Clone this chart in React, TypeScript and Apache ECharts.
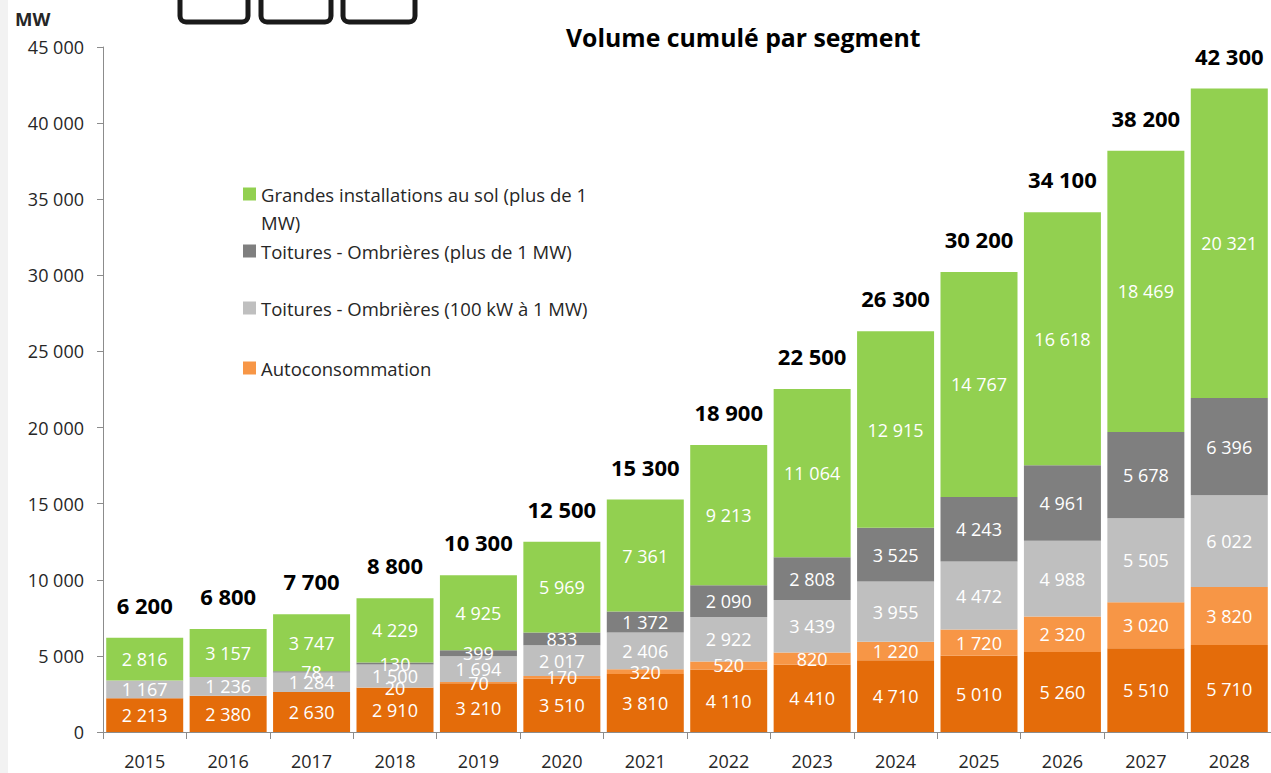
import React, { useEffect, useRef } from "react";
import * as echarts from "echarts";

const years = ["2015", "2016", "2017", "2018", "2019", "2020", "2021", "2022", "2023", "2024", "2025", "2026", "2027", "2028"];
const petites = [2213, 2380, 2630, 2910, 3210, 3510, 3810, 4110, 4410, 4710, 5010, 5260, 5510, 5710];
const autoconso = [0, 0, 0, 20, 70, 170, 320, 520, 820, 1220, 1720, 2320, 3020, 3820];
const toituresMoyennes = [1167, 1236, 1284, 1500, 1694, 2017, 2406, 2922, 3439, 3955, 4472, 4988, 5505, 6022];
const toituresGrandes = [0, 0, 78, 130, 399, 833, 1372, 2090, 2808, 3525, 4243, 4961, 5678, 6396];
const sol = [2816, 3157, 3747, 4229, 4925, 5969, 7361, 9213, 11064, 12915, 14767, 16618, 18469, 20321];
const totals = [6200, 6800, 7700, 8800, 10300, 12500, 15300, 18900, 22500, 26300, 30200, 34100, 38200, 42300];

const NAME_SOL = "Grandes installations au sol (plus de 1 MW)";
const NAME_TG = "Toitures - Ombrières (plus de 1 MW)";
const NAME_TM = "Toitures - Ombrières (100 kW à 1 MW)";
const NAME_AUTO = "Autoconsommation";
const NAME_PETITES = "Petites installations";

const FONT = "'Open Sans', Lato, sans-serif";

const fmt = (v: number) => String(v).replace(/\B(?=(\d{3})+(?!\d))/g, " ");

export default function App() {
  const ref = useRef<HTMLDivElement>(null);
  useEffect(() => {
    if (!ref.current) return;
    const chart = echarts.init(ref.current, undefined, { renderer: "svg" });
    const segLabel = {
      show: true,
      position: "inside" as const,
      color: "#ffffff",
      fontFamily: FONT,
      fontSize: 18,
      formatter: (p: any) => (p.value ? fmt(p.value) : ""),
    };
    const mk = (name: string, data: number[], color: string) => ({
      name,
      type: "bar",
      stack: "total",
      data,
      barWidth: 77,
      itemStyle: { color },
      label: segLabel,
    });
    const legendBase = {
      orient: "vertical",
      left: 243,
      padding: 0,
      itemWidth: 13,
      itemHeight: 13,
      icon: "rect",
      selectedMode: false,
      textStyle: { fontFamily: FONT, fontSize: 18.5, color: "#262626", lineHeight: 28 },
    };
    chart.setOption({
      animation: false,
      backgroundColor: "#ffffff",
      title: {
        text: "Volume cumulé par segment",
        left: 561,
        top: 19,
        textStyle: { fontFamily: FONT, fontSize: 24.8, fontWeight: "bold", color: "#000000" },
      },
      legend: [
        {
          ...legendBase,
          top: 152,
          data: [NAME_SOL],
          formatter: () => "\nGrandes installations au sol (plus de 1\nMW)",
        },
        { ...legendBase, top: 237, data: [NAME_TG] },
        { ...legendBase, top: 294, data: [NAME_TM] },
        { ...legendBase, top: 354, data: [NAME_AUTO] },
      ],
      grid: { left: 103, right: -5, top: 47, bottom: 41, containLabel: false },
      xAxis: {
        type: "category",
        data: years,
        axisLine: { lineStyle: { color: "#8c8c8c", width: 1 } },
        axisTick: { show: true, length: 7, lineStyle: { color: "#8c8c8c" } },
        axisLabel: { margin: 20, fontFamily: FONT, fontSize: 18, color: "#262626" },
      },
      yAxis: {
        type: "value",
        min: 0,
        max: 45000,
        interval: 5000,
        splitLine: { show: false },
        axisLine: { show: true, lineStyle: { color: "#8c8c8c", width: 1 } },
        axisTick: { show: true, length: 6, lineStyle: { color: "#8c8c8c" } },
        axisLabel: { margin: 19, fontFamily: FONT, fontSize: 18, color: "#262626", formatter: (v: number) => fmt(v) },
      },
      graphic: [
        { type: "rect", left: 0, top: 0, shape: { x: 0, y: 0, width: 8, height: 773 }, style: { fill: "#f2f2f2" }, z: 100 },
        { type: "text", left: 15, top: 9, style: { text: "MW", fontFamily: FONT, fontSize: 18.5, fontWeight: "bold", fill: "#262626" } },
        { type: "rect", shape: { x: 180, y: -40, width: 68, height: 62, r: 6 }, style: { fill: "none", stroke: "#1a1a1a", lineWidth: 5 } },
        { type: "rect", shape: { x: 261, y: -40, width: 70, height: 62, r: 6 }, style: { fill: "none", stroke: "#1a1a1a", lineWidth: 5 } },
        { type: "rect", shape: { x: 343, y: -40, width: 72, height: 62, r: 6 }, style: { fill: "none", stroke: "#1a1a1a", lineWidth: 5 } },
      ],
      series: [
        mk(NAME_PETITES, petites, "#e46c0a"),
        mk(NAME_AUTO, autoconso, "#f79646"),
        mk(NAME_TM, toituresMoyennes, "#bfbfbf"),
        mk(NAME_TG, toituresGrandes, "#7f7f7f"),
        mk(NAME_SOL, sol, "#92d050"),
        {
          name: "Total",
          type: "bar",
          stack: "total",
          barWidth: 77,
          data: totals.map(() => 0),
          itemStyle: { color: "transparent" },
          label: {
            show: true,
            position: "top",
            distance: 22,
            fontFamily: FONT,
            fontSize: 22,
            fontWeight: "bold",
            color: "#000000",
            formatter: (p: any) => fmt(totals[p.dataIndex]),
          },
        },
      ],
    });
    return () => chart.dispose();
  }, []);
  return <div ref={ref} style={{ position: "fixed", left: 0, top: 0, width: 1271, height: 773 }} />;
}
